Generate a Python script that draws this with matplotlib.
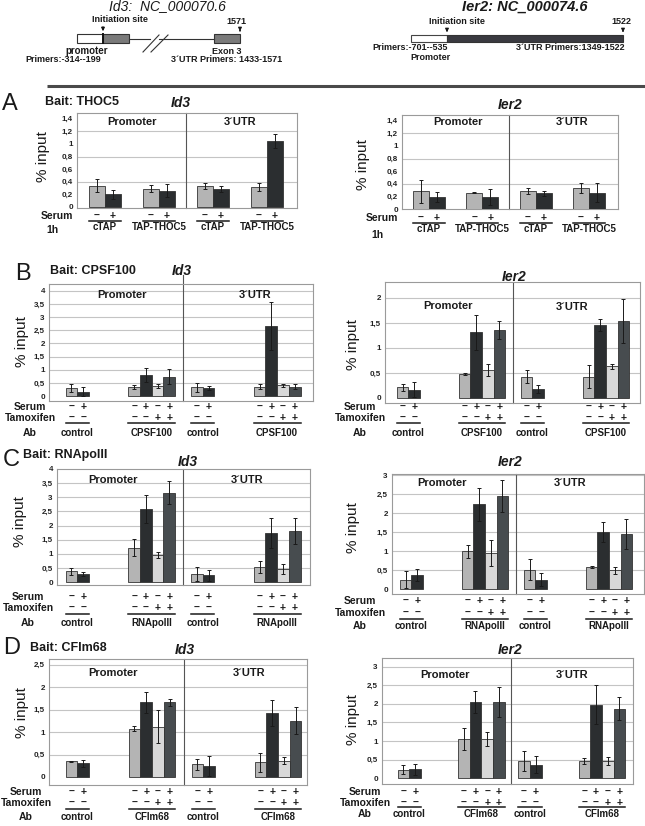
import matplotlib
matplotlib.use('Agg')
import matplotlib.pyplot as plt
import numpy as np
from matplotlib.patches import Rectangle
from matplotlib.transforms import blended_transform_factory

W, H = 645, 826
plt.rcParams['font.family'] = ['Liberation Sans', 'DejaVu Sans']

# ---- data ----
a_groups = ['cTAP', 'TAP-THOC5', 'cTAP', 'TAP-THOC5']
a_id3_mean = [[0.34, 0.20], [0.29, 0.26], [0.33, 0.28], [0.32, 1.04]]
a_id3_err = [[0.11, 0.07], [0.06, 0.10], [0.05, 0.05], [0.06, 0.11]]
a_ier2_mean = [[0.28, 0.19], [0.26, 0.19], [0.29, 0.25], [0.33, 0.26]]
a_ier2_err = [[0.18, 0.08], [0.01, 0.12], [0.05, 0.04], [0.08, 0.15]]

b_groups = ['control', 'CPSF100', 'control', 'CPSF100']
b_id3_mean = [[0.32, 0.17], [0.35, 0.80, 0.39, 0.73], [0.33, 0.30], [0.36, 2.66, 0.40, 0.35]]
b_id3_err = [[0.15, 0.16], [0.08, 0.25, 0.07, 0.28], [0.18, 0.09], [0.11, 0.90, 0.04, 0.09]]
b_ier2_mean = [[0.22, 0.17], [0.49, 1.32, 0.57, 1.37], [0.43, 0.19], [0.43, 1.47, 0.64, 1.54]]
b_ier2_err = [[0.07, 0.15], [0.02, 0.35, 0.12, 0.18], [0.13, 0.08], [0.23, 0.12, 0.05, 0.44]]

c_groups = ['control', 'RNApolII', 'control', 'RNApolII']
c_id3_mean = [[0.38, 0.29], [1.22, 2.59, 0.96, 3.16], [0.28, 0.24], [0.53, 1.73, 0.46, 1.81]]
c_id3_err = [[0.13, 0.07], [0.31, 0.49, 0.10, 0.40], [0.25, 0.20], [0.21, 0.54, 0.18, 0.47]]
c_ier2_mean = [[0.25, 0.38], [0.99, 2.23, 0.94, 2.45], [0.51, 0.25], [0.58, 1.51, 0.49, 1.45]]
c_ier2_err = [[0.22, 0.16], [0.16, 0.44, 0.34, 0.41], [0.28, 0.16], [0.03, 0.26, 0.10, 0.39]]

d_groups = ['control', 'CFIm68', 'control', 'CFIm68']
d_id3_mean = [[0.35, 0.30], [1.08, 1.66, 1.12, 1.66], [0.28, 0.24], [0.33, 1.42, 0.36, 1.25]]
d_id3_err = [[0.01, 0.07], [0.05, 0.24, 0.37, 0.07], [0.13, 0.22], [0.21, 0.29, 0.08, 0.30]]
d_ier2_mean = [[0.23, 0.24], [1.05, 2.05, 1.05, 2.05], [0.46, 0.36], [0.46, 1.98, 0.46, 1.87]]
d_ier2_err = [[0.11, 0.15], [0.30, 0.30, 0.18, 0.40], [0.26, 0.23], [0.09, 0.52, 0.12, 0.31]]

serum = ['–', '+', '–', '+']
tamoxifen = ['–', '–', '+', '+']

colors4 = ['#b4b4b4', '#2b2e30', '#d8d8d8', '#474c4f']
colors2 = ['#b4b4b4', '#2b2e30']

fig = plt.figure(figsize=(W / 100, H / 100), dpi=100)
ov = fig.add_axes([0, 0, 1, 1], zorder=10)
ov.set_xlim(0, W)
ov.set_ylim(H, 0)
ov.axis('off')


def txt(x, y, s, size=7, weight='bold', ha='center', **kw):
    ov.text(x, y, s, fontsize=size, fontweight=weight, ha=ha, va='center', color='#1a1a1a', **kw)


def fmt(v):
    return f"{v:g}".replace('.', ',')


def draw_panel(lay, means, errs, groups, two=False):
    l, t, r, b = lay['box']
    ax = fig.add_axes([l / W, 1 - b / H, (r - l) / W, (b - t) / H])
    ax.set_xlim((l - lay['c0']) / lay['sp'], (r - lay['c0']) / lay['sp'])
    ax.set_ylim(*lay['ylim'])
    ax.set_xticks([])
    yt = np.arange(0, lay['ymax'] + 1e-9, lay['step'])
    ax.set_yticks(yt)
    ax.set_yticklabels([fmt(v) for v in yt], fontsize=5.8, fontweight='bold', color='#222')
    ax.tick_params(axis='y', length=0, pad=3)
    for s in ax.spines.values():
        s.set_color('#9a9a9a')
        s.set_linewidth(0.8)
    for g in lay['grid']:
        ax.axhline(g, color='#c4c4c4', lw=0.8, zorder=1)
    top = lay['ylim'][1] + lay.get('div_ext', 0)
    ax.plot([1.5, 1.5], [lay['ylim'][0], top], color='#555', lw=0.8, zorder=2, clip_on=False)

    w = lay['w']
    bl = blended_transform_factory(ax.transData, ov.transData)
    nser = 2 if two else 4
    for gi, (m, e) in enumerate(zip(means, errs)):
        xs = gi + (np.arange(len(m)) - (nser - 1) / 2) * w
        cols = colors2 if two else colors4[:len(m)]
        ax.bar(xs, m, w, color=cols, edgecolor='#333', lw=0.6, zorder=3)
        ax.errorbar(xs, m, yerr=e, fmt='none', ecolor='#1a1a1a', elinewidth=0.7,
                    capsize=1.5, capthick=0.7, zorder=4)
        for k, x in enumerate(xs):
            ax.text(x, lay['y_serum'], serum[k], transform=bl, fontsize=7.5, fontweight='bold',
                    ha='center', va='center', color='#1a1a1a')
            if not two:
                ax.text(x, lay['y_tam'], tamoxifen[k], transform=bl, fontsize=7.5, fontweight='bold',
                        ha='center', va='center', color='#1a1a1a')
        ax.plot([xs[0] - w / 2, xs[-1] + w / 2], [lay['y_line']] * 2, transform=bl,
                color='#1a1a1a', lw=1.1, clip_on=False)
        ax.text(gi + (0 if two else (len(m) - nser) / 2 * w), lay['y_group'], groups[gi],
                transform=bl, fontsize=7, fontweight='bold', ha='center', va='center', color='#1a1a1a')

    txt(*lay['prom'], 'Promoter', size=8)
    txt(*lay['utr'], '3´UTR', size=8)
    txt(*lay['title'], lay['name'], size=10, style='italic')
    ov.text(*lay['ylab'], '% input', fontsize=11, rotation=90, ha='center', va='center', color='#1a1a1a')
    rx = lay['rowx']
    txt(rx, lay['y_serum'], 'Serum', size=7.5)
    if two:
        txt(lay['onehx'], lay['y_1h'], '1h', size=7.5)
    else:
        txt(rx, lay['y_tam'], 'Tamoxifen', size=7.5)
        txt(rx, lay['y_group'], 'Ab', size=7.5)
    return ax


# ---- gene diagrams ----
txt(167, 6, 'Id3:  NC_000070.6', size=10, weight='normal', style='italic')
ov.add_patch(Rectangle((77, 34), 26, 9, fc='white', ec='#333', lw=0.8))
ov.add_patch(Rectangle((103, 34), 26, 9, fc='#7a7a7a', ec='#333', lw=0.8))
ov.plot([103, 103], [34, 43], color='#111', lw=1.4)
ov.plot([129, 150], [38.5, 38.5], color='#333', lw=0.8)
ov.plot([159, 214], [38.5, 38.5], color='#333', lw=0.8)
ov.plot([143, 159], [52, 35], color='#333', lw=0.8)
ov.plot([151, 168], [52, 35], color='#333', lw=0.8)
ov.add_patch(Rectangle((214, 34), 26, 9, fc='#7a7a7a', ec='#333', lw=0.8))
arr = dict(arrowstyle='-|>', color='#111', lw=0.8, mutation_scale=5)
ov.annotate('', xy=(103, 34), xytext=(103, 24), arrowprops=arr)
ov.annotate('', xy=(240, 34), xytext=(240, 28), arrowprops=arr)
txt(120, 19, 'Initiation site', size=6.5)
txt(236, 22, '1571', size=6.5)
txt(87, 51, 'promoter', size=7)
txt(63, 60, 'Primers:-314--199', size=6.5)
txt(227, 51, 'Exon 3', size=6.5)
txt(227, 60, '3´UTR Primers: 1433-1571', size=6.5)

txt(525, 7, 'Ier2: NC_000074.6', size=10.5, style='italic')
ov.add_patch(Rectangle((411, 35), 36, 7, fc='white', ec='#444', lw=0.8))
ov.add_patch(Rectangle((447, 35), 176, 7, fc='#3a3a40', ec='#333', lw=0.8))
ov.annotate('', xy=(447, 35), xytext=(447, 27), arrowprops=arr)
ov.annotate('', xy=(623, 35), xytext=(623, 28), arrowprops=arr)
txt(457, 21, 'Initiation site', size=6.5)
txt(621, 22, '1522', size=6.5)
txt(410, 48, 'Primers:-701--535', size=6.5)
txt(430, 57, 'Promoter', size=6.5)
txt(570, 48, '3´UTR Primers:1349-1522', size=6.5)

ov.plot([47, 645], [86, 86], color='#4a4a4a', lw=2.2, solid_capstyle='butt')

# ---- panel headers ----
for letter, lx, ly, bait, bx, by in [('A', 10, 104, 'Bait: THOC5', 45, 102),
                                     ('B', 23, 274, 'Bait: CPSF100', 50, 271),
                                     ('C', 11, 460, 'Bait: RNApolII', 23, 455),
                                     ('D', 12, 648, 'Bait: CFIm68', 30, 648)]:
    txt(lx, ly, letter, size=17, weight='light')
    txt(bx, by, bait, size=9, ha='left')

# ---- panels ----
panels = [
    (dict(box=(77, 113, 297, 208), c0=105, sp=54, w=0.296, ylim=(-0.016, 1.49), ymax=1.4, step=0.2,
          grid=[0.4, 0.8, 1.2], y_serum=216, y_line=221, y_group=227, y_1h=230, rowx=57, onehx=52,
          prom=(132, 122), utr=(240, 122), title=(181, 103), name='Id3', ylab=(43, 157)),
     a_id3_mean, a_id3_err, a_groups, True),
    (dict(box=(402, 115, 618, 209), c0=429, sp=53.3, w=0.3, ylim=(0, 1.49), ymax=1.4, step=0.2,
          grid=[0.4, 0.8, 1.2], y_serum=218, y_line=223, y_group=229, y_1h=235, rowx=382, onehx=377,
          prom=(458, 122), utr=(572, 122), title=(510, 105), name='Ier2', ylab=(363, 165)),
     a_ier2_mean, a_ier2_err, a_groups, True),
    (dict(box=(49, 284, 313, 401), c0=89, sp=62.7, w=0.187, ylim=(-0.19, 4.26), ymax=4, step=0.5,
          grid=np.arange(0.5, 4.01, 0.5), div_ext=0.35, y_serum=407, y_tam=418, y_line=423, y_group=433,
          rowx=30, prom=(122, 295), utr=(255, 295), title=(182, 271), name='Id3', ylab=(22, 342)),
     b_id3_mean, b_id3_err, b_groups, False),
    (dict(box=(385, 282, 640, 403), c0=420, sp=62, w=0.187, ylim=(-0.1, 2.32), ymax=2, step=0.5,
          grid=np.arange(0.5, 2.01, 0.5), y_serum=407, y_tam=418, y_line=423, y_group=433,
          rowx=360, prom=(448, 306), utr=(572, 307), title=(514, 277), name='Ier2', ylab=(353, 345)),
     b_ier2_mean, b_ier2_err, b_groups, False),
    (dict(box=(57, 469, 310, 585), c0=89, sp=62.7, w=0.187, ylim=(-0.106, 4.0), ymax=4, step=0.5,
          grid=np.arange(0.5, 3.51, 0.5), y_serum=597, y_tam=608, y_line=614, y_group=623,
          rowx=28, prom=(113, 480), utr=(247, 480), title=(188, 462), name='Id3', ylab=(20, 522)),
     c_id3_mean, c_id3_err, c_groups, False),
    (dict(box=(392, 474, 644, 594), c0=423, sp=62, w=0.187, ylim=(-0.13, 3.03), ymax=3, step=0.5,
          grid=np.arange(0.5, 3.01, 0.5), y_serum=601, y_tam=613, y_line=619, y_group=626,
          rowx=360, prom=(442, 483), utr=(570, 483), title=(510, 462), name='Ier2', ylab=(353, 528)),
     c_ier2_mean, c_ier2_err, c_groups, False),
    (dict(box=(49, 659, 307, 785), c0=89, sp=63, w=0.186, ylim=(-0.18, 2.63), ymax=2.5, step=0.5,
          grid=np.arange(0.5, 2.51, 0.5), y_serum=792, y_tam=803, y_line=809, y_group=817,
          rowx=26, prom=(113, 673), utr=(249, 673), title=(185, 650), name='Id3', ylab=(22, 713)),
     d_id3_mean, d_id3_err, d_groups, False),
    (dict(box=(382, 658, 633, 784), c0=421, sp=60.3, w=0.194, ylim=(-0.16, 3.24), ymax=3, step=0.5,
          grid=np.arange(0.5, 3.01, 0.5), y_serum=792, y_tam=803, y_line=807, y_group=814,
          rowx=365, prom=(445, 675), utr=(572, 675), title=(510, 650), name='Ier2', ylab=(353, 720)),
     d_ier2_mean, d_ier2_err, d_groups, False),
]

for lay, m, e, g, two in panels:
    draw_panel(lay, m, e, g, two)

fig.savefig('out.png', dpi=100)
